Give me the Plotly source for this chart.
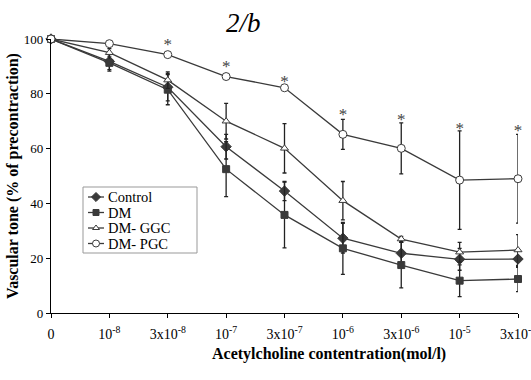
import plotly.graph_objects as go

categories = ["0", "10<sup>-8</sup>", "3x10<sup>-8</sup>", "10<sup>-7</sup>", "3x10<sup>-7</sup>",
              "10<sup>-6</sup>", "3x10<sup>-6</sup>", "10<sup>-5</sup>", "3x10<sup>-5</sup>"]
x_idx = list(range(len(categories)))

control = [100, 91.8, 82.4, 60.7, 44.5, 27.3, 21.8, 19.6, 19.7]
control_err = [0, 3, 5, 4.5, 3.5, 5.4, 4, 4, 3]
dm = [100, 91.3, 81.5, 52.5, 35.8, 23.6, 17.5, 11.8, 12.4]
dm_err = [0, 3, 5.5, 10, 12, 9.5, 8.3, 5.8, 4.6]
ggc = [100, 95, 85, 70, 60.1, 41.0, 27.0, 22.2, 23.0]
ggc_err = [0, 1.5, 3, 6.5, 9, 7, 1, 3.6, 5.6]
pgc = [100, 98.3, 94.3, 86.3, 82.2, 65.2, 60.1, 48.5, 49.0]
pgc_err = [0, 0.5, 0.5, 1, 0.5, 5.5, 9.3, 18, 16.2]

star_x = [2, 3, 4, 5, 6, 7, 8]
star_y = [97.5, 89.5, 84, 72, 70.3, 67, 66.3]

series_names = ["Control", "DM", "DM- GGC", "DM- PGC"]

LINE = "#3a3a3a"
FONT = "Liberation Serif"

L, R, T, B = 51, 518, 39, 313

styles = [
    dict(symbol="diamond", size=8, color=LINE),
    dict(symbol="square", size=7, color=LINE),
    dict(symbol="triangle-up", size=7, color="white"),
    dict(symbol="circle", size=8, color="white"),
]

fig = go.Figure()

for name, ys, errs, st in zip(series_names, [control, dm, ggc, pgc],
                              [control_err, dm_err, ggc_err, pgc_err], styles):
    fig.add_trace(go.Scatter(
        x=x_idx, y=ys, name=name, mode="lines+markers", cliponaxis=False,
        showlegend=False,
        line=dict(color=LINE, width=1.3),
        marker=dict(symbol=st["symbol"], size=st["size"], color=st["color"],
                    line=dict(color=LINE, width=1)),
        error_y=dict(type="data", array=errs, visible=True, color="#222222",
                     thickness=1.3, width=2),
    ))

fig.add_trace(go.Scatter(
    x=star_x, y=star_y, mode="text", text=["*"] * len(star_x), cliponaxis=False,
    textposition="middle center", showlegend=False,
    textfont=dict(family=FONT, size=17, color="#444444"),
))

# legend drawn on an overlay axis measured in pixels
leg_left, leg_right, leg_top, leg_bottom = 83, 197, 187, 253
row_y = [197, 212.5, 228, 243.5]
sym_x0, sym_x1, text_x = 88, 104, 106
annotations = []
for name, st, ry in zip(series_names, styles, row_y):
    fig.add_trace(go.Scatter(
        x=[sym_x0, sym_x1], y=[ry, ry], mode="lines", xaxis="x2", yaxis="y2",
        line=dict(color=LINE, width=1.3), showlegend=False, hoverinfo="skip"))
    fig.add_trace(go.Scatter(
        x=[(sym_x0 + sym_x1) / 2], y=[ry], mode="markers", xaxis="x2", yaxis="y2",
        marker=dict(symbol=st["symbol"], size=st["size"] - 1, color=st["color"],
                    line=dict(color=LINE, width=1)),
        showlegend=False, hoverinfo="skip"))
    annotations.append(dict(text=name, xref="x2", yref="y2", x=text_x, y=ry,
                            xanchor="left", yanchor="middle", showarrow=False,
                            font=dict(family=FONT, size=14.5, color="black")))

annotations += [
    dict(text="<i>2/b</i>", xref="paper", yref="paper", x=(243 - L) / (R - L), y=(B - 23) / (B - T),
         showarrow=False, font=dict(family=FONT, size=27, color="black"),
         xanchor="center", yanchor="middle"),
    dict(text="<b>Acetylcholine contentration(mol/l)</b>", xref="paper", yref="paper",
         x=(329 - L) / (R - L), y=(B - 354) / (B - T), showarrow=False,
         font=dict(family=FONT, size=16, color="black"),
         xanchor="center", yanchor="middle"),
]

fig.update_layout(
    width=531, height=380,
    margin=dict(l=L, r=531 - R, t=T, b=380 - B, autoexpand=False),
    paper_bgcolor="white", plot_bgcolor="white",
    font=dict(family=FONT, color="black", size=12),
    showlegend=False,
    xaxis=dict(range=[0, 8], tickmode="array", tickvals=x_idx, ticktext=categories,
               showline=True, linecolor="black", linewidth=1.3, ticks="outside",
               ticklen=4, tickcolor="black", showgrid=False, zeroline=False,
               ticklabelstandoff=4, ticklabeloverflow="allow", automargin=False,
               tickfont=dict(family=FONT, size=14, color="black")),
    yaxis=dict(range=[0, 100], tickvals=[0, 20, 40, 60, 80, 100],
               showline=True, linecolor="black", linewidth=1.3, ticks="outside",
               ticklen=4, tickcolor="black", showgrid=False, zeroline=False,
               automargin=False,
               tickfont=dict(family=FONT, size=13, color="black"),
               title=dict(text="<b>Vascular tone (% of precontraction)</b>",
                          font=dict(family=FONT, size=16, color="black"), standoff=1)),
    xaxis2=dict(domain=[0, 1], range=[L, R], overlaying="x", visible=False, fixedrange=True),
    yaxis2=dict(domain=[0, 1], range=[B, T], overlaying="y", visible=False, fixedrange=True),
    shapes=[dict(type="rect", xref="x2", yref="y2", x0=leg_left, x1=leg_right,
                 y0=leg_top, y1=leg_bottom, line=dict(color="#999999", width=1),
                 fillcolor="white", layer="below")],
    annotations=annotations,
)

fig.write_html("out.html")
